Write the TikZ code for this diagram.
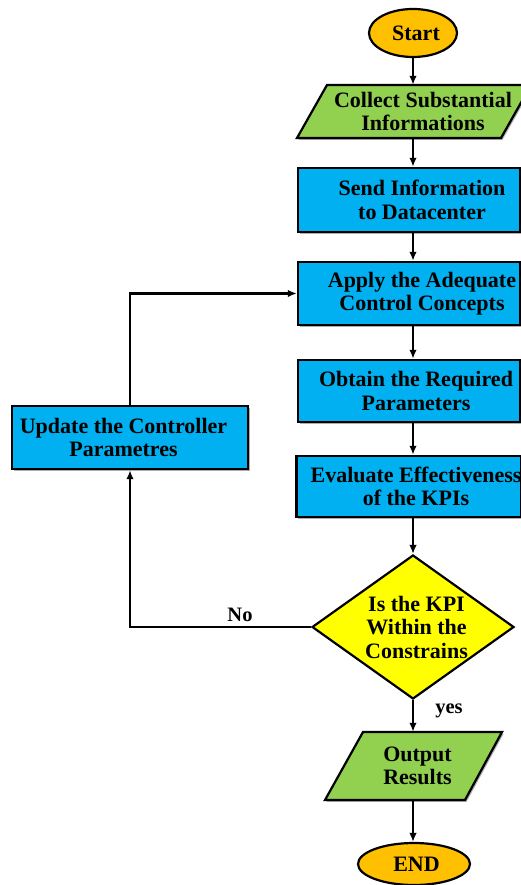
\documentclass[tikz,border=0pt]{standalone}
\usepackage{fontspec}
\setmainfont{Liberation Serif}
\usetikzlibrary{shapes.geometric,arrows.meta,shadows}
\definecolor{boxblue}{HTML}{00B0F0}
\definecolor{paragreen}{HTML}{92D050}
\definecolor{termorange}{HTML}{FFC000}
\definecolor{decyellow}{HTML}{FFFF00}
\newcommand\lpad[1]{\hspace*{#1}}
\begin{document}
\begin{tikzpicture}[x=1pt,y=-1pt,
  every node/.style={font=\bfseries\fontsize{22}{23.5}\selectfont, align=center, inner sep=0pt},
  boxshadow/.style={drop shadow={shadow xshift=1.6pt, shadow yshift=-1.8pt, fill=black!45, opacity=0.7}},
  procbox/.style={rectangle, draw=black, line width=2.4pt, fill=boxblue, minimum width=222pt, boxshadow},
  term/.style={ellipse, draw=black, line width=2.2pt, fill=termorange},
  decision/.style={diamond, aspect=1.45, draw=black, line width=2.2pt, fill=decyellow, minimum width=202pt, minimum height=144pt},
  paraline/.style={draw=black, line width=2.2pt, fill=paragreen},
  paratext/.style={rectangle},
  arr/.style={line width=2.2pt, -{Latex[length=9pt,width=7.5pt]}},
  flowlabel/.style={font=\bfseries\fontsize{20.5}{22}\selectfont}
]
\clip (0,0) rectangle (521,885);
\fill[white] (0,0) rectangle (521,885);

% Start
\node[term, minimum width=88pt, minimum height=48pt] (start) at (413,33) {\lpad{6pt}Start};

% Collect (parallelogram)
\fill[black!45, opacity=0.7] (328.6,86.8) -- (532.6,86.8) -- (502.6,139.8) -- (298.6,139.8) -- cycle;
\path[paraline] (327,85) -- (531,85) -- (501,138) -- (297,138) -- cycle;
\node[paratext, minimum width=204pt, minimum height=53pt] (collect) at (414,111.5) {\lpad{18pt}Collect Substantial\\\lpad{18pt}Informations};

% Process boxes
\node[procbox, minimum height=64pt] (send) at (409,200) {\lpad{26pt}Send Information\\\lpad{26pt}to Datacenter};
\node[procbox, minimum height=63pt] (apply) at (409,293.5) {\lpad{26pt}Apply the Adequate\\\lpad{26pt}Control Concepts};
\node[procbox, minimum height=62pt] (obtain) at (409,391) {\lpad{14pt}Obtain the Required\\\lpad{14pt}Parameters};
\node[procbox, minimum height=61pt] (evaluate) at (409,486.5) {\lpad{14pt}Evaluate Effectiveness\\\lpad{14pt}of the KPIs};
\node[procbox, minimum width=236pt, minimum height=63pt] (update) at (130,437.5) {Update the Controller\lpad{13pt}\\Parametres\lpad{13pt}};

% Decision
\node[decision] (dec) at (413,627) {\lpad{7pt}Is the KPI\\\lpad{7pt}Within the\\\lpad{7pt}Constrains};

% Output (parallelogram)
\fill[black!45, opacity=0.7] (364.6,733.8) -- (503.6,733.8) -- (466.6,801.8) -- (326.6,801.8) -- cycle;
\path[paraline] (363,732) -- (502,732) -- (465,800) -- (325,800) -- cycle;
\node[paratext, minimum width=140pt, minimum height=68pt] (output) at (413.5,766) {\lpad{8pt}Output\\\lpad{8pt}Results};

% End
\node[term, minimum width=112pt, minimum height=42pt] (end) at (414,864) {\lpad{5pt}END};

% Connectors
\draw[arr] (start.south) -- (collect.north -| start.south);
\draw[arr] (collect.south -| start.south) -- (send.north -| start.south);
\draw[arr] (send.south -| start.south) -- (apply.north -| start.south);
\draw[arr] (apply.south -| start.south) -- (obtain.north -| start.south);
\draw[arr] (obtain.south -| start.south) -- (evaluate.north -| start.south);
\draw[arr] (evaluate.south -| start.south) -- (dec.north);
\draw[arr] (dec.south) -- (output.north -| dec.south);
\draw[arr] (output.south -| dec.south) -- (end.north -| dec.south);
\draw[arr] (dec.west) -| (update.south);
\draw[arr] (update.north) |- (apply.west);

% Labels
\node[flowlabel] (nolab) at (240,615) {No};
\node[flowlabel] (yeslab) at (449,711) {yes};
\end{tikzpicture}
\end{document}
